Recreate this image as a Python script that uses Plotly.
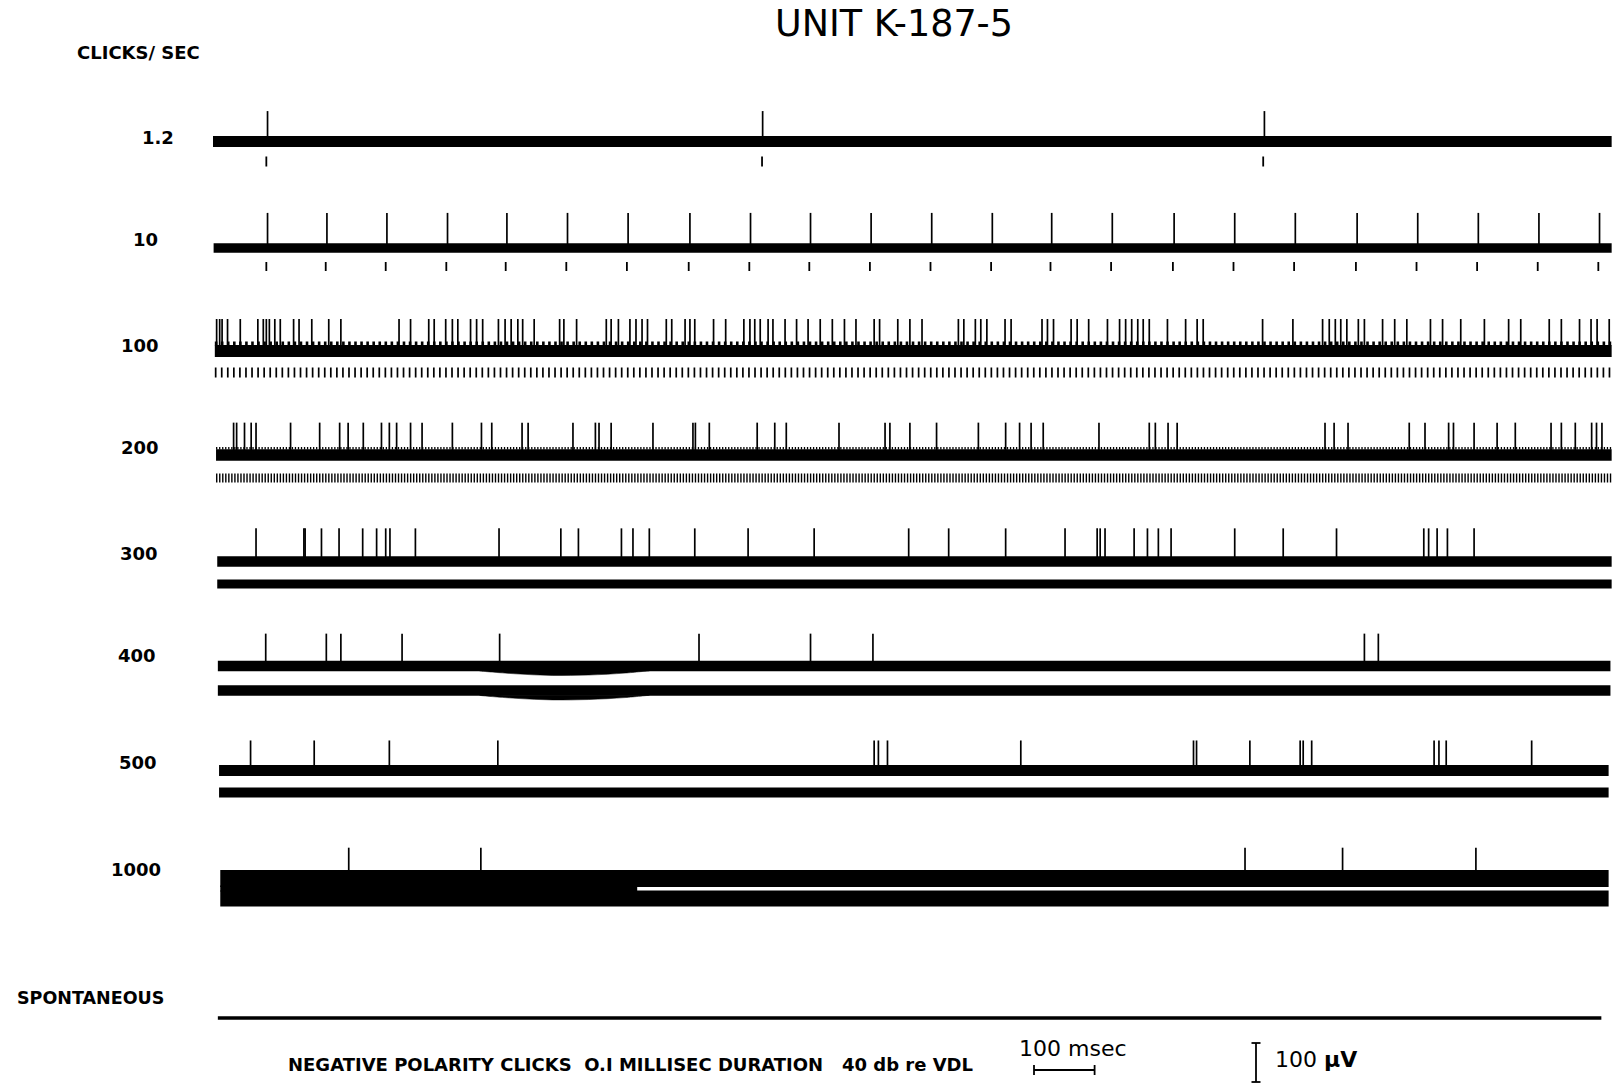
import plotly.graph_objects as go

# ---------------- data ----------------
title_text = "UNIT K-187-5"
axis_label = "CLICKS/ SEC"
rate_labels = ["1.2", "10", "100", "200", "300", "400", "500", "1000"]
spont_label = "SPONTANEOUS"
caption = "NEGATIVE POLARITY CLICKS\u00a0\u00a0O.I MILLISEC DURATION\u00a0\u00a0\u00a040 db re VDL"

# spike height above the trace, µV (one value per row)
spike_amp_uv = [78, 90, 82, 83, 85, 83, 77, 79]

# click (stimulus) marker times, ms
clicks_1_2 = [88, 906, 1733]
clicks_10 = [88, 186, 285, 385, 483, 583, 683, 785, 885, 984, 1084, 1184, 1284,
             1382, 1482, 1584, 1684, 1784, 1886, 1986, 2086, 2186, 2286]

# spike times, ms
spikes_1_2 = [90, 907, 1735]
spikes_10 = [90, 188, 287, 387, 485, 585, 685, 787, 887, 986, 1086, 1186, 1286,
             1384, 1484, 1586, 1686, 1786, 1888, 1988, 2088, 2188, 2288]
spikes_100 = [6, 11, 15, 24, 45, 74, 83, 88, 93, 102, 111, 133, 142, 163, 191, 211,
              307, 326, 356, 365, 384, 395, 404, 425, 435, 445, 471, 482, 492, 503,
              511, 530, 572, 579, 600, 649, 657, 669, 688, 698, 708, 717, 748, 757,
              779, 787, 795, 826, 846, 876, 886, 894, 903, 916, 924, 944, 963, 982,
              1002, 1022, 1042, 1061, 1091, 1100, 1130, 1150, 1170, 1230, 1239, 1258,
              1267, 1277, 1307, 1317, 1368, 1377, 1387, 1416, 1426, 1445, 1476, 1496,
              1506, 1516, 1526, 1535, 1545, 1575, 1605, 1624, 1634, 1732, 1782, 1831,
              1842, 1852, 1861, 1871, 1890, 1900, 1930, 1950, 1970, 2009, 2029, 2059,
              2098, 2138, 2158, 2205, 2225, 2255, 2274, 2284, 2304]
spikes_200 = [34, 39, 52, 63, 71, 128, 176, 209, 223, 248, 278, 291, 303, 326, 345,
              395, 443, 460, 510, 520, 594, 631, 637, 657, 726, 792, 796, 819, 898,
              927, 946, 1033, 1109, 1117, 1150, 1194, 1263, 1308, 1331, 1350, 1370,
              1462, 1545, 1555, 1576, 1591, 1835, 1850, 1873, 1974, 2000, 2039, 2047,
              2081, 2119, 2149, 2208, 2225, 2248, 2275, 2283, 2292]
spikes_300 = [71, 150, 152, 179, 208, 247, 270, 285, 292, 334, 472, 574, 603, 674,
              693, 720, 795, 883, 992, 1148, 1214, 1308, 1406, 1459, 1464, 1472, 1520,
              1542, 1560, 1581, 1686, 1766, 1854, 1998, 2006, 2020, 2037, 2081]
spikes_400 = [87, 187, 211, 312, 473, 802, 986, 1089, 1900, 1923]
spikes_500 = [62, 167, 291, 470, 1091, 1098, 1113, 1333, 1618, 1623, 1711, 1794, 1799,
              1813, 2015, 2023, 2035, 2176]
spikes_1000 = [224, 442, 1703, 1864, 2084]

# recording extent of each row, ms
trace_start_ms = [0, 1, 3, 5, 7, 8, 10, 12]
trace_end_ms = [2308, 2308, 2308, 2308, 2308, 2306, 2303, 2303]
spont_extent_ms = [8, 2291]

# slow downward deflection in the 400 c/s record (time ms, depth µV)
slow_wave_400_t = [440, 500, 560, 620, 680, 720]
slow_wave_400_uv = [0, 8, 12, 11, 6, 0]

# calibration
scale_time_ms = 100
scale_volt_uv = 100

# ---------------- layout geometry ----------------
FIG_W, FIG_H = 1612, 1085
MS_PER_PX = 100 / 60.6
UV_PER_PX = 100 / 39.0
X0_PX = 213

def ypos(p):          # vertical page position (px) -> data value
    return -p * UV_PER_PX

def dx(p):
    return p * MS_PER_PX

BLACK = "#000000"
fig = go.Figure()

def hline(t0, t1, ypx, width, dash="solid", color=BLACK):
    fig.add_trace(go.Scatter(x=[t0, t1], y=[ypos(ypx), ypos(ypx)], mode="lines",
                             line=dict(color=color, width=width, dash=dash),
                             hoverinfo="skip", showlegend=False))

def vsegs(times, y0, y1, width, color=BLACK):
    xs, ys = [], []
    for t in times:
        xs += [t, t, None]
        ys += [y0, y1, None]
    fig.add_trace(go.Scatter(x=xs, y=ys, mode="lines",
                             line=dict(color=color, width=width),
                             hoverinfo="skip", showlegend=False))

spike_rows = [spikes_1_2, spikes_10, spikes_100, spikes_200, spikes_300,
              spikes_400, spikes_500, spikes_1000]

# trace centre (px), trace thickness (px)
row_center_px = [141.5, 248, 351, 455, 561.5, 666, 770.5, 878.5]
row_thick_px = [11, 9.5, 12, 11.5, 10.5, 10.5, 11, 17]
# stimulus marker centre (px) and thickness (px)
stim_center_px = [161.5, 266.5, 372.5, 478, 584, 690.5, 792.5, 898.5]
stim_thick_px = [10, 9, 10, 9, 9, 10.5, 10, 16]

for i in range(8):
    t0, t1 = trace_start_ms[i], trace_end_ms[i]
    yc = row_center_px[i]
    hline(t0, t1, yc, row_thick_px[i])
    if i == 0:
        vsegs(clicks_1_2, ypos(stim_center_px[i] - 5), ypos(stim_center_px[i] + 5), 1.8)
    elif i == 1:
        vsegs(clicks_10, ypos(stim_center_px[i] - 4.5), ypos(stim_center_px[i] + 4.5), 1.8)
    elif i == 2:
        per = 1000.0 / 100 / MS_PER_PX
        hline(t0, t1, stim_center_px[i], stim_thick_px[i],
              dash=f"1.7px,{per - 1.7:.3f}px")
        hline(t0, t1, yc - row_thick_px[i] / 2 - 1.5, 4,
              dash=f"2.6px,{per - 2.6:.3f}px")
    elif i == 3:
        per = 1000.0 / 200 / MS_PER_PX
        hline(t0, t1, stim_center_px[i], stim_thick_px[i],
              dash=f"1.4px,{per - 1.4:.3f}px")
        hline(t0, t1, yc - row_thick_px[i] / 2 - 1, 2.5,
              dash=f"1.3px,{per - 1.3:.3f}px")
    else:
        hline(t0, t1, stim_center_px[i], stim_thick_px[i])
    top = ypos(yc) + spike_amp_uv[i]
    vsegs(spike_rows[i], ypos(yc), top, 1.7)

# 1000 c/s: the two bands merge at the start of the record
hline(trace_start_ms[7], 700, (row_center_px[7] + stim_center_px[7]) / 2, 6)

# 400 c/s slow deflection on both trace and marker band
for base_px in [row_center_px[5] + row_thick_px[5] / 2 - 0.5,
                stim_center_px[5] + stim_thick_px[5] / 2 - 0.5]:
    yb = ypos(base_px)
    xs = list(slow_wave_400_t) + list(reversed(slow_wave_400_t))
    ys = [yb - d for d in slow_wave_400_uv] + [yb] * len(slow_wave_400_t)
    fig.add_trace(go.Scatter(x=xs, y=ys, mode="lines", fill="toself", fillcolor=BLACK,
                             line=dict(color=BLACK, width=0.5, shape="spline"),
                             hoverinfo="skip", showlegend=False))

# spontaneous record
hline(spont_extent_ms[0], spont_extent_ms[1], 1018, 3.5)

# ---------------- calibration bars ----------------
tb0 = (1034 - X0_PX) * MS_PER_PX
ybar = 1070
fig.add_trace(go.Scatter(x=[tb0, tb0 + scale_time_ms], y=[ypos(ybar)] * 2, mode="lines",
                         line=dict(color=BLACK, width=1.8), hoverinfo="skip", showlegend=False))
vsegs([tb0, tb0 + scale_time_ms], ypos(ybar - 5), ypos(ybar + 5), 1.8)

tv = (1256 - X0_PX) * MS_PER_PX
yv_bot = ypos(1082)
fig.add_trace(go.Scatter(x=[tv, tv], y=[yv_bot, yv_bot + scale_volt_uv], mode="lines",
                         line=dict(color=BLACK, width=1.8), hoverinfo="skip", showlegend=False))
for yy in [yv_bot, yv_bot + scale_volt_uv]:
    fig.add_trace(go.Scatter(x=[tv - dx(4.5), tv + dx(4.5)], y=[yy, yy], mode="lines",
                             line=dict(color=BLACK, width=1.8), hoverinfo="skip",
                             showlegend=False))

# ---------------- text ----------------
BOLD = dict(family="DejaVu Sans, Liberation Sans, Arial", size=17.5, color=BLACK, weight="bold")
REG = dict(family="DejaVu Sans, Liberation Sans, Arial", color=BLACK)

def ann(text, xpx, ypx, font, xanchor="center"):
    fig.add_annotation(text=text, x=xpx / FIG_W, y=1 - ypx / FIG_H, xref="paper",
                       yref="paper", xanchor=xanchor, yanchor="middle",
                       showarrow=False, font=font)

ann(title_text, 894, 24, dict(REG, size=36.5))
ann(axis_label, 75, 52, dict(BOLD, size=18), xanchor="left")
label_x = [158, 145, 140, 140, 139, 137, 138, 136]
label_y = [138, 239, 346, 448, 553, 655, 762, 869]
for lab, xx, yy in zip(rate_labels, label_x, label_y):
    ann(lab, xx, yy, dict(BOLD, size=18))
ann(spont_label, 15, 998, BOLD, xanchor="left")
ann(caption, 286, 1064, dict(BOLD, size=18), xanchor="left")
ann("100 msec", 1073, 1048, dict(REG, size=22))
ann("100 <b>\u00b5V</b>", 1273, 1059, dict(REG, size=22), xanchor="left")

fig.update_layout(
    width=FIG_W, height=FIG_H, margin=dict(l=0, r=0, t=0, b=0),
    paper_bgcolor="white", plot_bgcolor="white", showlegend=False,
    xaxis=dict(range=[-X0_PX * MS_PER_PX, (FIG_W - X0_PX) * MS_PER_PX], visible=False,
               fixedrange=True),
    yaxis=dict(range=[ypos(FIG_H), 0], visible=False, fixedrange=True),
)

fig.write_html("out.html")
